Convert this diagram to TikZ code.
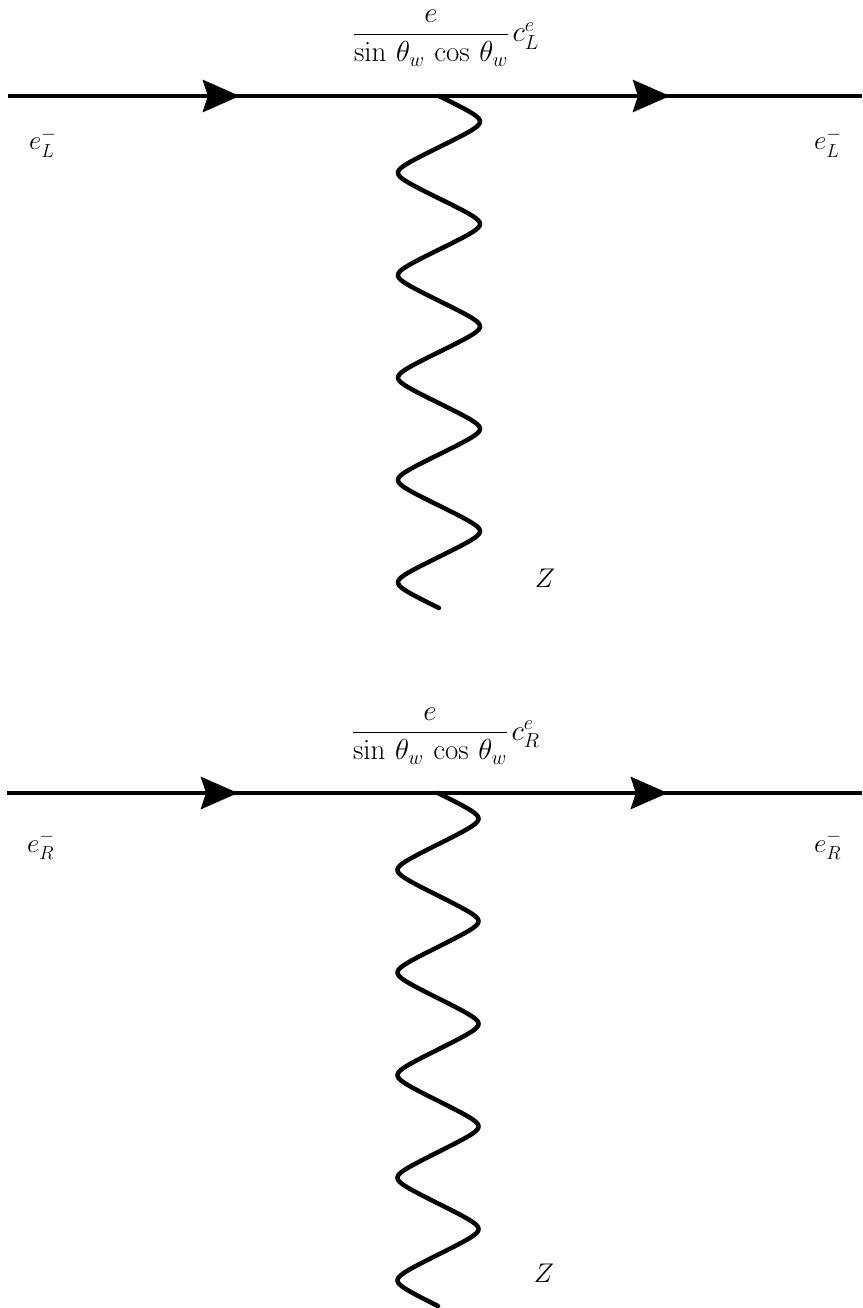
\documentclass[tikz,border=0pt]{standalone}
\usepackage{fix-cm}
\usepackage{amsmath}
\usetikzlibrary{arrows.meta,decorations.markings}
\tikzset{
  fermion/.style={line width=4.5pt, postaction={decorate},
    decoration={markings, mark=at position #1 with {\arrow{Stealth[length=37pt,width=32pt,inset=5pt]}}}},
  wave/.style={line width=4.5pt, line cap=round},
  lab/.style={font=\fontsize{27}{32}\selectfont, inner sep=0pt},
  coup/.style={font=\fontsize{29}{34}\selectfont, inner sep=0pt},
}
\begin{document}
\begin{tikzpicture}[x=1pt,y=-1pt]
\useasboundingbox (0,0) rectangle (862,1308);
% ---------- top diagram ----------
\coordinate (a1) at (8,96);
\coordinate (v1) at (439,96);
\coordinate (b1) at (862,96);
\coordinate (z1) at (439,608);
\draw[fermion=0.538] (a1) -- (v1);
\draw[fermion=0.546] (v1) -- (b1);
\begin{scope}[shift={(v1)}]
  \draw[wave] plot[domain=0:1800, samples=721] ({41*asin(0.9*sin(\x))/64.158}, {\x/360*102.4});
\end{scope}
\node[lab, anchor=base west] (eL1) at (29,150) {$e_L^-$};
\node[lab, anchor=base west] (eL2) at (814,150) {$e_L^-$};
\node[coup, anchor=base] (g1) at (431,42) {$\dfrac{e}{\sin\,\theta_w\,\cos\,\theta_w}$};
\node[coup, anchor=base west] (c1) at ([xshift=3pt]g1.base east) {$c_L^e$};
\node[lab] (Z1) at (545,578) {$Z$};
% ---------- bottom diagram ----------
\coordinate (a2) at (7,793);
\coordinate (v2) at (438,793);
\coordinate (b2) at (862,793);
\coordinate (z2) at (438,1306);
\draw[fermion=0.536] (a2) -- (v2);
\draw[fermion=0.542] (v2) -- (b2);
\begin{scope}[shift={(v2)}]
  \draw[wave] plot[domain=0:1800, samples=721] ({40.5*asin(0.9*sin(\x))/64.158}, {\x/360*102.6});
\end{scope}
\node[lab, anchor=base west] (eR1) at (27,852) {$e_R^-$};
\node[lab, anchor=base west] (eR2) at (814,852) {$e_R^-$};
\node[coup, anchor=base] (g2) at (430,740) {$\dfrac{e}{\sin\,\theta_w\,\cos\,\theta_w}$};
\node[coup, anchor=base west] (c2) at ([xshift=3pt]g2.base east) {$c_R^e$};
\node[lab] (Z2) at (544,1273) {$Z$};
\end{tikzpicture}
\end{document}
